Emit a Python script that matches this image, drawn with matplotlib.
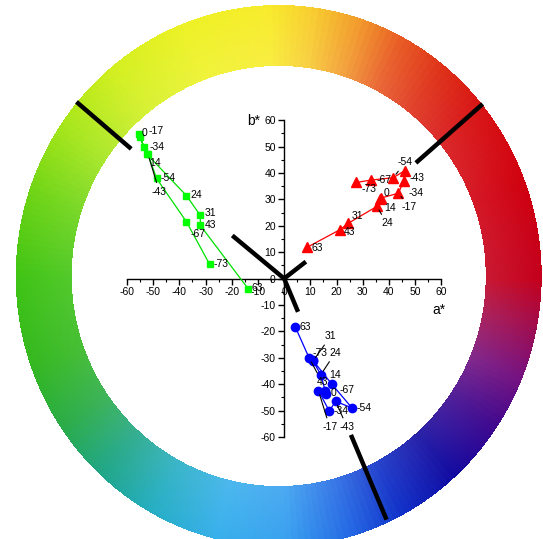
import matplotlib.pyplot as plt
import numpy as np
from matplotlib.colors import LinearSegmentedColormap
from matplotlib.ticker import MultipleLocator

plt.rcParams['font.family'] = ['Liberation Sans', 'DejaVu Sans']
plt.rcParams['axes.unicode_minus'] = False

# etiquetas de los puntos (mismo orden en las tres series)
labels = ['63', '43', '31', '24', '14', '0', '-17', '-34', '-43', '-54', '-67', '-73']

# serie verde
green_a = [-13.7, -32.0, -32.0, -37.3, -52.3, -55.6, -55.0, -53.4, -52.0, -48.7, -37.3, -28.5]
green_b = [-3.9, 20.1, 23.9, 31.4, 47.0, 54.7, 53.5, 49.7, 47.1, 37.9, 21.5, 5.5]

# serie roja
red_a = [8.9, 21.3, 24.4, 35.4, 36.5, 37.0, 43.6, 45.7, 46.1, 41.7, 33.3, 27.5]
red_b = [11.9, 18.5, 20.9, 27.3, 30.1, 30.5, 32.3, 37.0, 40.9, 38.2, 37.3, 36.4]

# serie azul
blue_a = [4.2, 9.6, 11.0, 14.0, 15.7, 15.9, 13.1, 17.2, 19.7, 25.9, 18.2, 11.0]
blue_b = [-18.2, -30.2, -31.2, -36.4, -42.6, -43.8, -42.5, -50.1, -46.5, -49.0, -40.0, -31.0]

# direcciones de tono (lineas negras)
hue_inner = [(-19.8, 16.3), (8.3, 6.4), (5.3, -12.6)]
hue_outer = [((-58.4, 49.1), (-79.3, 66.9)), ((50.3, 43.8), (75.8, 66.1)), ((25.5, -59.2), (39.1, -91.3))]

# posicion de las etiquetas (x, y, con linea guia)
green_txt = [(-12.4, -3.7, 0), (-30.4, 20.1, 0), (-30.4, 24.7, 0), (-35.7, 31.6, 0), (-51.5, 43.8, 0),
             (-54.4, 55.2, 0), (-51.8, 55.8, 1), (-51.5, 49.7, 0), (-50.5, 32.9, 1), (-47.2, 37.9, 0),
             (-35.7, 16.8, 0), (-26.9, 5.5, 0)]
red_txt = [(10.3, 11.7, 0), (22.7, 17.8, 0), (25.9, 23.5, 0), (37.0, 20.9, 1), (38.3, 26.8, 0),
           (37.8, 32.5, 0), (45.0, 27.0, 1), (47.3, 32.5, 0), (47.7, 38.2, 0), (43.3, 44.0, 1),
           (35.1, 37.4, 0), (29.5, 34.0, 0)]
blue_txt = [(5.8, -18.2, 0), (12.3, -39.2, 1), (15.6, -21.8, 1), (17.3, -28.1, 1), (17.2, -36.5, 0),
            (17.6, -43.2, 0), (14.5, -56.2, 1), (18.9, -50.3, 0), (21.1, -56.2, 1), (27.5, -49.0, 0),
            (21.1, -42.1, 0), (11.0, -28.1, 0)]

W, H = 543, 539
fig = plt.figure(figsize=(W / 100, H / 100), dpi=100)

# anillo de color de fondo
ring_stops = [(0, '#c4001c'), (20, '#d0000f'), (40, '#d81414'), (51, '#de3018'), (62, '#e85a24'),
              (72, '#f29a2c'), (82, '#f8cc30'), (92, '#f8ec2c'), (110, '#eef226'), (128, '#d4f020'),
              (145, '#a6e61a'), (162, '#6cd414'), (180, '#40c414'), (200, '#34b820'), (215, '#2aac48'),
              (228, '#20a686'), (242, '#26aec4'), (257, '#38b0ec'), (272, '#38a0f0'), (286, '#2468e4'),
              (298, '#1030c8'), (312, '#120aa0'), (326, '#40088e'), (338, '#761280'), (350, '#a20c4c'),
              (360, '#c4001c')]
cmap = LinearSegmentedColormap.from_list('hue', [(a / 360, c) for a, c in ring_stops])

cx, cy = 278.7, 276.0
yy, xx = np.mgrid[0:H, 0:W] + 0.5
dx = xx - cx
dy = cy - yy
ang = np.degrees(np.arctan2(dy, dx)) % 360
r_out = np.hypot(dx / 263, dy / 271)
r_in = np.hypot(dx / 207, dy / 210)
mask = (r_out <= 1) & (r_in >= 1)
rgb = cmap(ang / 360)[..., :3]
s = np.clip((r_out - 0.787) / (1 - 0.787), 0, 1)[..., None]
rgb = rgb + (1 - rgb) * 0.10 * (1 - s)
img = np.ones((H, W, 3))
img[mask] = rgb[mask]

bg = fig.add_axes([0, 0, 1, 1], zorder=0)
bg.imshow(img, extent=(0, W, H, 0), interpolation='bilinear')
bg.set_xlim(0, W)
bg.set_ylim(H, 0)
bg.axis('off')

# ejes a*, b*
ax = fig.add_axes([127 / W, (H - 437) / H, 314.3 / W, 316.9 / H], zorder=1)
ax.patch.set_alpha(0)
ax.set_xlim(-60, 60)
ax.set_ylim(-60, 60)
for side in ['top', 'right']:
    ax.spines[side].set_visible(False)
ax.spines['left'].set_position('zero')
ax.spines['bottom'].set_position('zero')
for side in ['left', 'bottom']:
    ax.spines[side].set_linewidth(1.0)
ax.xaxis.set_major_locator(MultipleLocator(10))
ax.yaxis.set_major_locator(MultipleLocator(10))
ax.xaxis.set_minor_locator(MultipleLocator(5))
ax.yaxis.set_minor_locator(MultipleLocator(5))
ax.tick_params(which='major', direction='out', length=4, width=1, labelsize=7.5, pad=2)
ax.tick_params(which='minor', direction='out', length=2, width=0.8)
ax.text(59, -12, 'a*', fontsize=10, ha='center', va='center')
ax.text(-11.8, 59.5, 'b*', fontsize=10, ha='center', va='center')

# lineas negras de tono
for (x, y) in hue_inner:
    ax.plot([0, x], [0, y], color='black', lw=3.2, solid_capstyle='butt', clip_on=False, zorder=3)
for (p1, p2) in hue_outer:
    ax.plot([p1[0], p2[0]], [p1[1], p2[1]], color='black', lw=3.2, solid_capstyle='butt',
            clip_on=False, zorder=3)

# series
ax.plot(green_a, green_b, color='#00e000', lw=0.9, marker='s', ms=5, mfc='#00ff00', mec='#00ff00',
        clip_on=False, zorder=4)
ax.plot(red_a, red_b, color='#ff0000', lw=0.9, marker='^', ms=6.5, mfc='#ff0000', mec='#ff0000',
        clip_on=False, zorder=4)
ax.plot(blue_a, blue_b, color='#0000ff', lw=0.9, marker='o', ms=6, mfc='#0000ff', mec='#0000ff',
        clip_on=False, zorder=4)

for xs, ys, txt in [(green_a, green_b, green_txt), (red_a, red_b, red_txt), (blue_a, blue_b, blue_txt)]:
    for lbl, x, y, (tx, ty, lead) in zip(labels, xs, ys, txt):
        if lead:
            ax.annotate(lbl, xy=(x, y), xytext=(tx, ty), textcoords='data', fontsize=7.5,
                        ha='left', va='center', zorder=5, annotation_clip=False,
                        arrowprops=dict(arrowstyle='-', color='black', lw=0.8, shrinkA=1, shrinkB=3))
        else:
            ax.text(tx, ty, lbl, fontsize=7.5, ha='left', va='center', zorder=5)

fig.savefig('out.png', dpi=100)
